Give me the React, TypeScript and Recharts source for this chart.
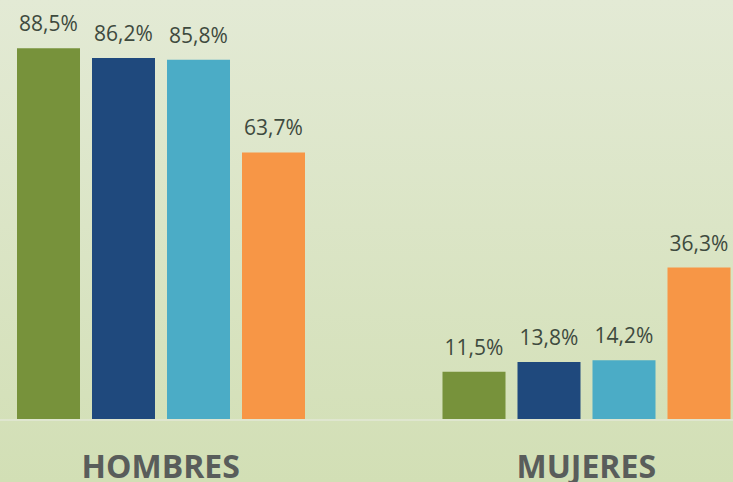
import { BarChart, Bar, XAxis, YAxis, LabelList } from 'recharts';

const categories = ['HOMBRES', 'MUJERES'];
const serieA = [88.5, 11.5];
const serieB = [86.2, 13.8];
const serieC = [85.8, 14.2];
const serieD = [63.7, 36.3];

const data = categories.map((name, i) => ({
  name,
  a: serieA[i],
  b: serieB[i],
  c: serieC[i],
  d: serieD[i],
}));

const colors = { a: '#77923b', b: '#1f497d', c: '#4bacc6', d: '#f79646' };

const fmt = (v: any) => Number(v).toFixed(1).replace('.', ',') + '%';

const labelStyle = { fill: '#3e4a3e', fontSize: 21, fontFamily: '"Open Sans", sans-serif' };

function CategoryTick({ x, y, payload }: any) {
  return (
    <text
      x={x}
      y={y + 50}
      textAnchor="middle"
      fill="#595d5b"
      fontSize={32}
      fontWeight={700}
      fontFamily='"Open Sans", sans-serif'
    >
      {payload.value}
    </text>
  );
}

export default function App() {
  return (
    <div
      style={{
        position: 'relative',
        width: 733,
        height: 482,
        overflow: 'hidden',
        background: 'linear-gradient(to bottom, #e3ead5 0%, #d2dfb5 100%)',
      }}
    >
      <style>{'body{margin:0}'}</style>
      <div style={{ position: 'absolute', left: -52, top: 0 }}>
        <BarChart
          width={851}
          height={482}
          data={data}
          margin={{ top: 0, right: 0, bottom: 0, left: 0 }}
          barGap={12}
        >
          <XAxis
            dataKey="name"
            height={62}
            tickLine={false}
            axisLine={{ stroke: '#dfe6cf', strokeWidth: 2 }}
            tick={<CategoryTick />}
            interval={0}
          />
          <YAxis hide domain={[0, 100]} />
          {(['a', 'b', 'c', 'd'] as const).map((k) => (
            <Bar key={k} dataKey={k} fill={colors[k]} barSize={63} isAnimationActive={false}>
              <LabelList dataKey={k} position="top" offset={17} formatter={fmt} style={labelStyle} />
            </Bar>
          ))}
        </BarChart>
      </div>
    </div>
  );
}
